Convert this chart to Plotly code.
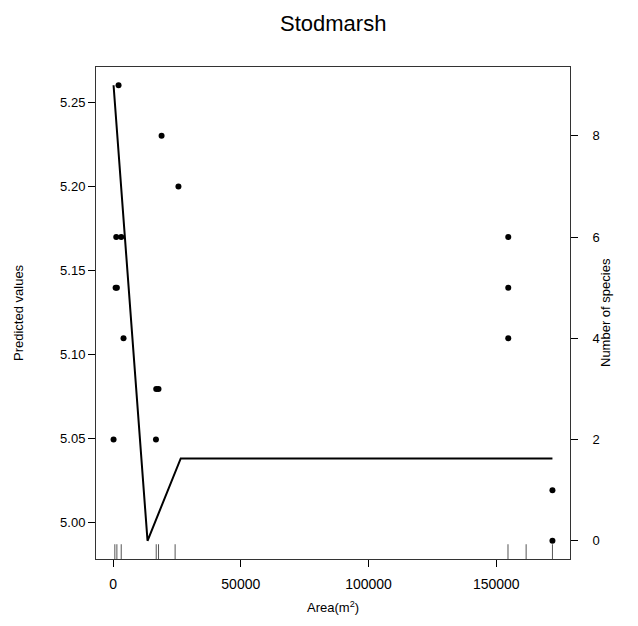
import plotly.graph_objects as go
import numpy as np

# Fitted line (predicted values, left axis)
pred_area = [200, 13500, 26500, 172000]
pred_value = [5.260, 4.989, 5.038, 5.038]

# Observed species counts (right axis)
obs_area = [2150, 19000, 25600, 1250, 3200, 1000, 1500, 4100, 200, 16800,
            16900, 17800, 154700, 154700, 154700, 172000, 172000]
obs_species = [9, 8, 7, 6, 6, 5, 5, 4, 2, 2, 3, 3, 6, 5, 4, 1, 0]

# Rug positions along the x axis
rug_area = [700, 1500, 3200, 16900, 17800, 24300, 154600, 161700, 172000]

x_ticks = [0, 50000, 100000, 150000]
y_ticks = [5.00, 5.05, 5.10, 5.15, 5.20, 5.25]
y2_ticks = [0, 2, 4, 6, 8]

def expand(lo, hi, f=0.04):
    d = hi - lo
    return [lo - f * d, hi + f * d]

xmin = min(min(pred_area), min(obs_area))
xmax = max(max(pred_area), max(obs_area))
xr = expand(xmin, xmax)
yr = expand(min(pred_value), max(pred_value))
y2r = expand(min(obs_species), max(obs_species))

FONT = "Liberation Sans, Arial, sans-serif"

fig = go.Figure()
fig.add_trace(go.Scatter(x=pred_area, y=pred_value, mode="lines",
                         line=dict(color="black", width=2), yaxis="y",
                         showlegend=False, hoverinfo="skip"))
fig.add_trace(go.Scatter(x=obs_area, y=obs_species, mode="markers",
                         marker=dict(color="black", size=6), yaxis="y2",
                         showlegend=False))

# rug as shapes in data x, paper y
rug_len = 0.03
for a in rug_area:
    fig.add_shape(type="line", xref="x", yref="paper", x0=a, x1=a, y0=0, y1=rug_len,
                  line=dict(color="#555555", width=1))

fig.update_layout(
    width=638, height=626,
    margin=dict(l=96, r=68, t=67, b=67),
    paper_bgcolor="white", plot_bgcolor="white",
    font=dict(family=FONT, size=13, color="black"),
    xaxis=dict(range=xr, tickvals=x_ticks, ticktext=[str(v) for v in x_ticks],
               showgrid=False, zeroline=False, showline=True, linecolor="#333333",
               linewidth=1, mirror=True, ticks="outside", ticklen=7, tickcolor="black",
               tickfont=dict(size=14), ticklabelstandoff=5),
    yaxis=dict(range=yr, tickvals=y_ticks, ticktext=[f"{v:.2f}" for v in y_ticks],
               showgrid=False, zeroline=False, showline=True, linecolor="#333333",
               linewidth=1, mirror=True, ticks="outside", ticklen=7, tickcolor="black",
               tickfont=dict(size=13)),
    yaxis2=dict(range=y2r, tickvals=y2_ticks, ticktext=[str(v) for v in y2_ticks],
                overlaying="y", side="right", anchor="x",
                showgrid=False, zeroline=False, showline=True, linecolor="#333333",
                linewidth=1, ticks="outside", ticklen=7, tickcolor="black",
                tickfont=dict(size=13), ticklabelstandoff=12),
    annotations=[
        dict(text="Stodmarsh", xref="paper", yref="paper", x=0.5, y=1,
             yshift=44, showarrow=False, font=dict(size=22), yanchor="middle"),
        dict(text="Area(m<sup>2</sup>)", xref="paper", yref="paper", x=0.5, y=0,
             yshift=-48, showarrow=False, font=dict(size=13), yanchor="middle"),
        dict(text="Predicted values", xref="paper", yref="paper", x=0, y=0.5,
             xshift=-78, showarrow=False, textangle=-90, font=dict(size=13),
             xanchor="center"),
        dict(text="Number of species", xref="paper", yref="paper", x=1, y=0.5,
             xshift=35, showarrow=False, textangle=-90, font=dict(size=13),
             xanchor="center"),
    ],
)

fig.write_html("out.html")
